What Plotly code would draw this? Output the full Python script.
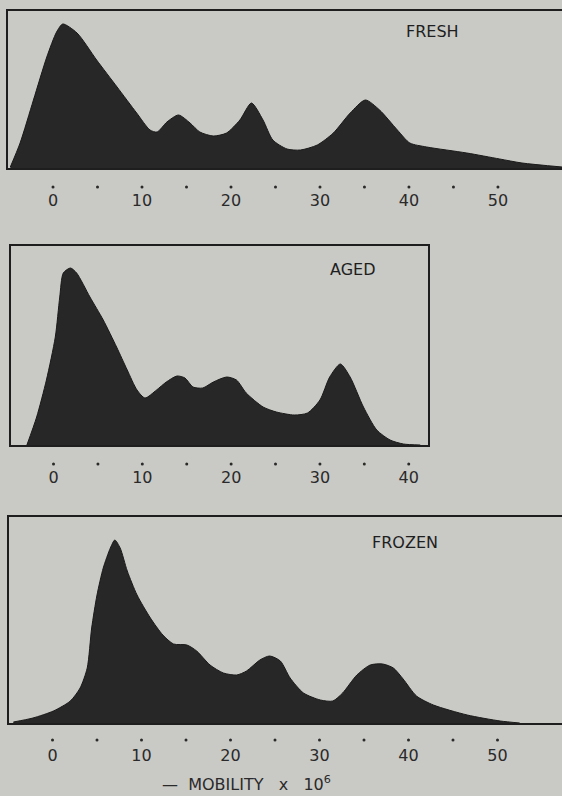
import plotly.graph_objects as go

# ---------------- data (mobility x 1e6, relative height) ----------------
fresh_x = [-4.8, -3.7, -2.2, -0.7, 0.4, 1.1, 2.7, 4.9, 7.2, 9.4, 10.9, 11.7, 12.8, 14.1, 15.4,
           16.5, 18.0, 19.5, 21.0, 22.3, 23.6, 24.7, 26.3, 27.8, 29.7, 31.5, 33.4, 35.1, 36.7,
           38.7, 40.1, 42.0, 46.5, 50.2, 52.7, 57.2]
fresh_y = [1, 25, 68, 111, 136, 144, 135, 108, 81, 55, 38, 36, 46, 53, 45,
           36, 32, 35, 48, 65, 48, 28, 19, 18, 23, 35, 55, 68, 58,
           38, 25, 21, 15, 9, 5, 1]

aged_x = [-3.0, -1.9, -0.8, 0.2, 0.7, 1.1, 1.9, 2.6, 4.1, 5.6, 7.1, 8.3, 9.4, 10.3, 11.6,
          12.7, 13.9, 14.8, 15.7, 16.8, 18.0, 19.5, 20.6, 21.7, 23.6, 25.1, 27.1, 28.6, 30.0,
          31.1, 32.3, 33.4, 34.9, 36.4, 37.9, 39.4, 41.3]
aged_y = [0, 28, 65, 108, 148, 172, 177, 172, 148, 125, 98, 75, 55, 47, 55,
          63, 69, 67, 58, 57, 63, 68, 65, 52, 38, 33, 30, 32, 45,
          68, 81, 68, 38, 15, 5, 1, 0]

frozen_x = [-4.4, -2.2, 0.1, 2.0, 3.1, 3.9, 4.4, 5.0, 5.7, 6.5, 7.0, 7.6, 8.4, 9.5, 11.0,
            12.4, 13.6, 15.1, 16.2, 17.7, 19.2, 20.7, 21.8, 23.3, 24.4, 25.6, 26.7, 28.2, 30.1,
            31.5, 32.6, 34.2, 35.7, 37.1, 38.3, 39.4, 40.9, 42.8, 46.6, 50.3, 52.5]
frozen_y = [1, 5, 12, 22, 35, 55, 95, 128, 155, 175, 183, 175, 152, 128, 105,
            88, 79, 78, 72, 58, 50, 48, 52, 63, 67, 62, 45, 30, 23,
            22, 30, 48, 58, 59, 55, 44, 27, 18, 8, 2, 0]

fresh_ticks = [0, 10, 20, 30, 40, 50]
aged_ticks = [0, 10, 20, 30, 40]
frozen_ticks = [0, 10, 20, 30, 40, 50]
fresh_dots = [0, 5, 10, 15, 20, 25, 30, 35, 40, 45, 50]
aged_dots = [0, 5, 10, 15, 20, 25, 30, 35, 40]
frozen_dots = [0, 5, 10, 15, 20, 25, 30, 35, 40, 45, 50]
titles = ["FRESH", "AGED", "FROZEN"]

BG = "#c9c9c5"
INK = "#272727"
FONT = "DejaVu Sans"
H = 796

fig = go.Figure()

panels = [
    dict(x=fresh_x, y=fresh_y, ticks=fresh_ticks, dots=fresh_dots, title=titles[0],
         xdom=[8/562, 1.0], ydom=[(H-168)/H, (H-11)/H], doty=187,
         xr=[-5.06, 57.2], yr=[0, 157], tx=42.7, ty=136, sfx="", dsfx="4"),
    dict(x=aged_x, y=aged_y, ticks=aged_ticks, dots=aged_dots, title=titles[1],
         xdom=[11/562, 428/562], ydom=[(H-445)/H, (H-246)/H], doty=464,
         xr=[-4.79, 42.17], yr=[0, 199], tx=33.7, ty=176, sfx="2", dsfx="5"),
    dict(x=frozen_x, y=frozen_y, ticks=frozen_ticks, dots=frozen_dots, title=titles[2],
         xdom=[9/562, 1.0], ydom=[(H-723)/H, (H-517)/H], doty=740,
         xr=[-4.89, 57.25], yr=[0, 206], tx=39.6, ty=181, sfx="3", dsfx="6"),
]

for p in panels:
    xa = "x" + p["sfx"]
    ya = "y" + p["sfx"]
    yd = "y" + p["dsfx"]
    fig.add_trace(go.Scatter(
        x=p["x"], y=p["y"], mode="lines", xaxis=xa, yaxis=ya,
        line=dict(color="#1a1a1a", width=1, shape="spline", smoothing=0.7),
        fill="tozeroy", fillcolor=INK, hoverinfo="skip", showlegend=False))
    # row of tick dots drawn on a thin helper axis below the panel
    fig.add_trace(go.Scatter(
        x=p["dots"], y=[0] * len(p["dots"]), mode="markers", xaxis=xa, yaxis=yd,
        marker=dict(color="#2a2a2a", size=3), cliponaxis=False,
        hoverinfo="skip", showlegend=False))
    fig.add_annotation(x=p["tx"], y=p["ty"], xref=xa, yref=ya, text=p["title"],
                       showarrow=False, font=dict(family=FONT, size=16, color="#1e1e1e"))
    fig.layout["xaxis" + p["sfx"]] = dict(
        domain=p["xdom"], range=p["xr"], anchor=ya, showgrid=False, zeroline=False,
        showline=True, linecolor="#1e1e1e", linewidth=1.5, mirror=True,
        tickvals=p["ticks"], ticktext=[str(t) for t in p["ticks"]], ticks="",
        ticklabelstandoff=17, tickfont=dict(family=FONT, size=16, color="#2a2a2a"))
    fig.layout["yaxis" + p["sfx"]] = dict(
        domain=p["ydom"], range=p["yr"], anchor=xa, showgrid=False, zeroline=False,
        showline=True, linecolor="#1e1e1e", linewidth=1.5,
        mirror=(p["sfx"] == "2"), showticklabels=False, ticks="")
    fig.layout["yaxis" + p["dsfx"]] = dict(
        domain=[(H - p["doty"] - 5)/H, (H - p["doty"] + 5)/H], range=[-1, 1],
        anchor=xa, visible=False, showgrid=False, zeroline=False)

fig.add_annotation(x=247/562, y=0, xref="paper", yref="paper", yanchor="bottom",
                   text="—  MOBILITY   x   10<sup>6</sup>", showarrow=False,
                   font=dict(family=FONT, size=16, color="#2a2a2a"))

fig.update_layout(width=562, height=796, margin=dict(l=0, r=0, t=0, b=0),
                  paper_bgcolor=BG, plot_bgcolor=BG)

fig.write_html("out.html", config={"displayModeBar": False},
               post_script="document.body.style.margin='0';"
                           "document.body.style.overflow='hidden';"
                           "document.body.style.background='" + BG + "';")
